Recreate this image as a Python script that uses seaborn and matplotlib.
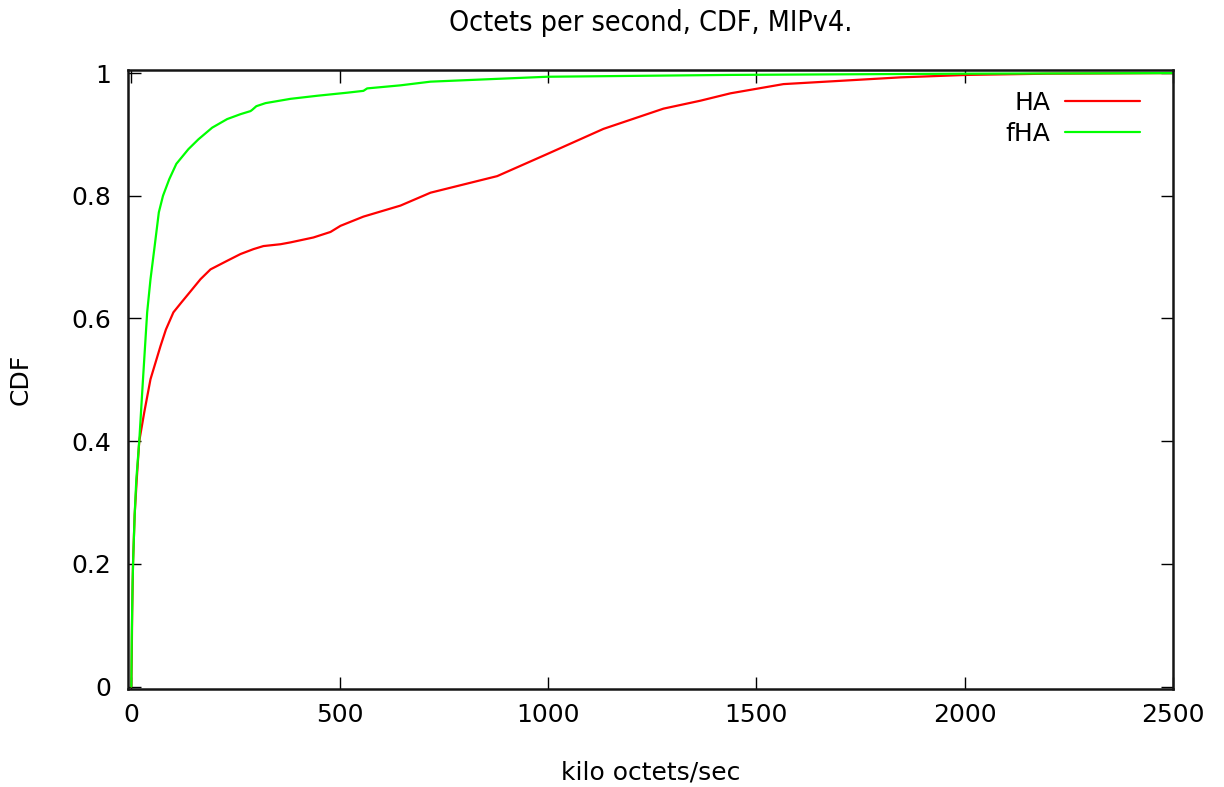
import numpy as np
import pandas as pd
import matplotlib
matplotlib.use("Agg")
import matplotlib.pyplot as plt
import seaborn as sns
from matplotlib.ticker import FuncFormatter

# CDF of throughput (kilo octets/sec) for the two home-agent variants
ha_x = [0, 1, 2, 4, 8, 13, 19, 31, 46, 70, 83, 101, 120, 137, 166, 190, 230,
        262, 293, 317, 358, 382, 437, 478, 502, 557, 646, 718, 878, 998, 1133,
        1277, 1366, 1438, 1565, 1846, 2006, 2200, 2500]
ha_y = [0.0, 0.05, 0.12, 0.20, 0.28, 0.338, 0.40, 0.447, 0.501, 0.555, 0.582,
        0.610, 0.626, 0.640, 0.664, 0.680, 0.694, 0.705, 0.713, 0.718, 0.721,
        0.724, 0.732, 0.741, 0.751, 0.766, 0.784, 0.805, 0.832, 0.868, 0.909,
        0.942, 0.955, 0.967, 0.982, 0.993, 0.997, 0.999, 1.0]

fha_x = [0, 1, 3, 5, 8, 12, 19, 28, 38, 46, 56, 66, 76, 91, 108, 137, 161,
         194, 230, 262, 286, 290, 300, 322, 382, 446, 518, 557, 566, 646, 718,
         998, 1438, 2000, 2500]
fha_y = [0.0, 0.08, 0.17, 0.22, 0.28, 0.338, 0.40, 0.501, 0.610, 0.664, 0.718,
         0.773, 0.800, 0.827, 0.852, 0.876, 0.892, 0.911, 0.925, 0.933, 0.938,
         0.940, 0.946, 0.951, 0.958, 0.963, 0.968, 0.971, 0.975, 0.980, 0.986,
         0.994, 0.997, 0.999, 1.0]

series_names = ["HA", "fHA"]
series_colors = {"HA": "#ff0000", "fHA": "#00ff00"}

x_ticks = [0, 500, 1000, 1500, 2000, 2500]
y_ticks = [0, 0.2, 0.4, 0.6, 0.8, 1.0]

df = pd.concat([
    pd.DataFrame({"x": ha_x, "y": ha_y, "series": "HA"}),
    pd.DataFrame({"x": fha_x, "y": fha_y, "series": "fHA"}),
], ignore_index=True)

sns.set_style("white")
plt.rcParams["font.family"] = ["DejaVu Sans"]
plt.rcParams["text.color"] = "black"
plt.rcParams["axes.labelcolor"] = "black"

fig = plt.figure(figsize=(12.24, 7.87), dpi=100)
ax = fig.add_axes([128 / 1224, 1 - 689 / 787, (1173 - 128) / 1224, (689 - 70) / 787])

sns.lineplot(data=df, x="x", y="y", hue="series", hue_order=series_names,
             palette=series_colors, estimator=None, sort=False,
             linewidth=1.6, ax=ax)

ax.set_xlim(-8, 2500)
ax.set_ylim(-0.004, 1.005)
ax.set_xticks(x_ticks)
ax.set_yticks(y_ticks)


def gp_fmt(v, pos):
    s = f"{v:.1f}".rstrip("0").rstrip(".")
    return s


ax.yaxis.set_major_formatter(FuncFormatter(gp_fmt))
ax.tick_params(axis="both", which="major", direction="in", length=9,
               width=1.0, color="black", labelsize=18, top=True, right=True,
               bottom=True, left=True, labelcolor="black")
ax.tick_params(axis="y", pad=12)
ax.tick_params(axis="x", pad=10)

for sp in ax.spines.values():
    sp.set_visible(True)
    sp.set_color("#151515")
    sp.set_linewidth(1.8)

ax.set_xlabel("kilo octets/sec", fontsize=18, labelpad=24)
ax.set_ylabel("CDF", fontsize=18, labelpad=28)
ax.set_title("Octets per second, CDF, MIPv4.", fontsize=20.5, pad=28,
             fontstretch="condensed")

handles, labels = ax.get_legend_handles_labels()
leg = ax.legend(handles, labels, loc="upper right", frameon=False,
                markerfirst=False, fontsize=18, handlelength=3.0,
                handletextpad=0.6, labelspacing=0.3,
                bbox_to_anchor=(0.99, 1.003))

fig.savefig("out.png", dpi=100, facecolor="white")
